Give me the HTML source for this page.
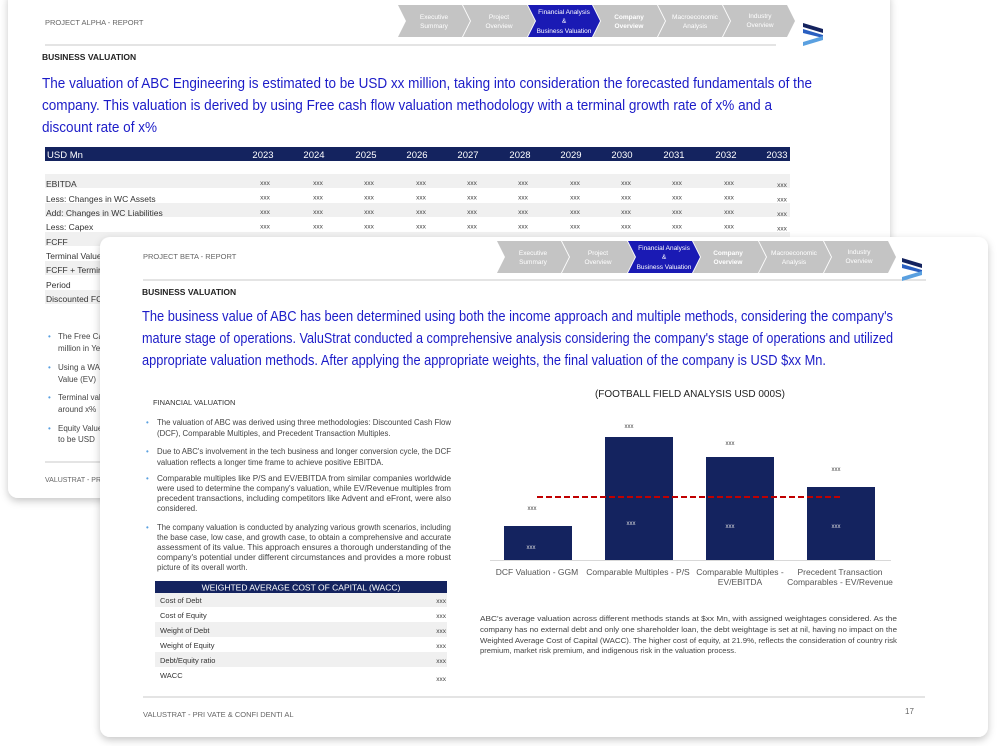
<!DOCTYPE html>
<html><head><meta charset="utf-8"><style>
html,body{margin:0;padding:0;background:#fff;width:1000px;height:746px;overflow:hidden}
svg{display:block}
text{font-family:"Liberation Sans",Arial,sans-serif}
</style></head><body>
<svg width="1000" height="746" viewBox="0 0 1000 746" xmlns="http://www.w3.org/2000/svg">
<defs>
<filter id="sh" x="-5%" y="-5%" width="110%" height="112%"><feDropShadow dx="0" dy="3" stdDeviation="4" flood-color="#000" flood-opacity="0.22"/></filter>
</defs>
<rect width="1000" height="746" fill="#fff"/>

<!-- BACK CARD -->
<rect x="8" y="-10" width="882" height="508" rx="10" fill="#fff" filter="url(#sh)"/>
<text x="45" y="25" font-size="7.5" fill="#666">PROJECT ALPHA - REPORT</text>
<line x1="45" y1="45" x2="776" y2="45" stroke="#c8c8c8" stroke-width="1"/>
<g font-size="6.5" fill="#fff" text-anchor="middle">
<polygon points="398,5 462,5 470,21 462,37 398,37 406,21" fill="#c4c4c4"/>
<text x="434" y="19">Executive</text><text x="434" y="28">Summary</text>
<polygon points="463,5 527,5 535,21 527,37 463,37 471,21" fill="#c4c4c4"/>
<text x="499" y="19">Project</text><text x="499" y="28">Overview</text>
<polygon points="528,5 592,5 600,21 592,37 528,37 536,21" fill="#1a1ab4"/>
<text x="564" y="14">Financial Analysis</text><text x="564" y="23">&amp;</text><text x="564" y="33">Business Valuation</text>
<polygon points="593,5 657,5 665,21 657,37 593,37 601,21" fill="#c4c4c4"/>
<text x="629" y="19" font-weight="bold">Company</text><text x="629" y="28" font-weight="bold">Overview</text>
<polygon points="658,5 722,5 730,21 722,37 658,37 666,21" fill="#c4c4c4"/>
<text x="695" y="19">Macroeconomic</text><text x="695" y="28">Analysis</text>
<polygon points="723,5 787,5 795,21 787,37 723,37 731,21" fill="#c4c4c4"/>
<text x="760" y="18">Industry</text><text x="760" y="27">Overview</text>
</g>
<g>
<polygon points="803,23 823,29 823,33 803,27" fill="#14235f"/>
<polygon points="803,29 823,35 823,38 803,33" fill="#2a5fc0"/>
<polygon points="803,42 823,36 823,40 803,46" fill="#5aa0e0"/>
</g>
<text x="42" y="60" font-size="8.5" font-weight="bold" fill="#222">BUSINESS VALUATION</text>
<g font-size="15" fill="#1c1cc8">
<text x="42" y="88" textLength="770" lengthAdjust="spacingAndGlyphs">The valuation of ABC Engineering is estimated to be USD xx million, taking into consideration the forecasted fundamentals of the</text>
<text x="42" y="110" textLength="730" lengthAdjust="spacingAndGlyphs">company. This valuation is derived by using Free cash flow valuation methodology with a terminal growth rate of x% and a</text>
<text x="42" y="132" textLength="115" lengthAdjust="spacingAndGlyphs">discount rate of x%</text>
</g>
<rect x="45" y="147" width="745" height="14" fill="#14235f"/>
<g font-size="9.5" fill="#fff">
<text x="47" y="158">USD Mn</text>
<g text-anchor="middle">
<text x="263" y="158">2023</text><text x="314" y="158">2024</text><text x="366" y="158">2025</text><text x="417" y="158">2026</text><text x="468" y="158">2027</text><text x="520" y="158">2028</text><text x="571" y="158">2029</text><text x="622" y="158">2030</text><text x="674" y="158">2031</text><text x="726" y="158">2032</text><text x="777" y="158">2033</text>
</g></g>
<g fill="#f0f0f0">
<rect x="45" y="174" width="745" height="14"/><rect x="45" y="203" width="745" height="14"/><rect x="45" y="232" width="745" height="14"/><rect x="45" y="261" width="745" height="14"/><rect x="45" y="290" width="745" height="14"/>
</g>
<g font-size="8.5" fill="#333">
<text x="46" y="187">EBITDA</text><text x="46" y="202">Less: Changes in WC Assets</text><text x="46" y="216">Add: Changes in WC Liabilities</text><text x="46" y="230">Less: Capex</text>
<text x="46" y="245">FCFF</text><text x="46" y="259">Terminal Value</text><text x="46" y="273">FCFF + Terminal Value</text><text x="46" y="288">Period</text><text x="46" y="302">Discounted FCFF</text>
</g>
<g font-size="6.5" fill="#444" text-anchor="middle">
<g id="xr"><text x="265" y="185">xxx</text><text x="318" y="185">xxx</text><text x="369" y="185">xxx</text><text x="421" y="185">xxx</text><text x="472" y="185">xxx</text><text x="523" y="185">xxx</text><text x="575" y="185">xxx</text><text x="626" y="185">xxx</text><text x="677" y="185">xxx</text><text x="729" y="185">xxx</text><text x="782" y="187">xxx</text></g>
<use href="#xr" y="14.5"/><use href="#xr" y="29"/><use href="#xr" y="43.5"/>
</g>
<g font-size="8" fill="#444">
<text x="48" y="339" fill="#5aa0e0">•</text><text x="58" y="339">The Free Cash Flow</text><text x="58" y="351">million in Year</text>
<text x="48" y="370" fill="#5aa0e0">•</text><text x="58" y="370">Using a WACC</text><text x="58" y="382">Value (EV)</text>
<text x="48" y="400" fill="#5aa0e0">•</text><text x="58" y="400">Terminal value</text><text x="58" y="412">around x%</text>
<text x="48" y="431" fill="#5aa0e0">•</text><text x="58" y="431">Equity Value</text><text x="58" y="442">to be USD</text>
</g>
<line x1="45" y1="462" x2="300" y2="462" stroke="#c8c8c8"/>
<text x="45" y="482" font-size="7" fill="#666" font-family="Liberation Serif,serif">VALUSTRAT - PRIVATE</text>

<!-- FRONT CARD -->
<rect x="100" y="237" width="888" height="500" rx="10" fill="#fff" filter="url(#sh)"/>
<text x="143" y="259" font-size="7.5" fill="#666">PROJECT BETA - REPORT</text>
<line x1="143" y1="280" x2="926" y2="280" stroke="#c8c8c8" stroke-width="1"/>
<g font-size="6.5" fill="#fff" text-anchor="middle">
<polygon points="497,241 561,241 569,257 561,273 497,273 505,257" fill="#c4c4c4"/>
<text x="533" y="255">Executive</text><text x="533" y="264">Summary</text>
<polygon points="562,241 627,241 635,257 627,273 562,273 570,257" fill="#c4c4c4"/>
<text x="598" y="255">Project</text><text x="598" y="264">Overview</text>
<polygon points="628,241 692,241 700,257 692,273 628,273 636,257" fill="#1a1ab4"/>
<text x="664" y="250">Financial Analysis</text><text x="664" y="259">&amp;</text><text x="664" y="269">Business Valuation</text>
<polygon points="693,241 758,241 766,257 758,273 693,273 701,257" fill="#c4c4c4"/>
<text x="728" y="255" font-weight="bold">Company</text><text x="728" y="264" font-weight="bold">Overview</text>
<polygon points="759,241 823,241 831,257 823,273 759,273 767,257" fill="#c4c4c4"/>
<text x="794" y="255">Macroeconomic</text><text x="794" y="264">Analysis</text>
<polygon points="824,241 888,241 896,257 888,273 824,273 832,257" fill="#c4c4c4"/>
<text x="859" y="254">Industry</text><text x="859" y="263">Overview</text>
</g>
<g>
<polygon points="902,258 922,264 922,268 902,262" fill="#14235f"/>
<polygon points="902,264 922,270 922,273 902,268" fill="#2a5fc0"/>
<polygon points="902,277 922,271 922,275 902,281" fill="#5aa0e0"/>
</g>
<text x="142" y="295" font-size="8.5" font-weight="bold" fill="#222">BUSINESS VALUATION</text>
<g font-size="15" fill="#1c1cc8">
<text x="142" y="321" textLength="751" lengthAdjust="spacingAndGlyphs">The business value of ABC has been determined using both the income approach and multiple methods, considering the company's</text>
<text x="142" y="343" textLength="751" lengthAdjust="spacingAndGlyphs">mature stage of operations. ValuStrat conducted a comprehensive analysis considering the company's stage of operations and utilized</text>
<text x="142" y="365" textLength="684" lengthAdjust="spacingAndGlyphs">appropriate valuation methods. After applying the appropriate weights, the final valuation of the company is USD $xx Mn.</text>
</g>
<text x="153" y="405" font-size="7.5" fill="#333">FINANCIAL  VALUATION</text>
<g font-size="7.8" fill="#444">
<g fill="#5aa0e0"><text x="146" y="425">•</text><text x="146" y="454">•</text><text x="146" y="481">•</text><text x="146" y="530">•</text></g>
<text x="157" y="425" textLength="294" lengthAdjust="spacingAndGlyphs">The valuation of ABC was derived using three methodologies: Discounted Cash Flow</text>
<text x="157" y="436">(DCF), Comparable Multiples, and Precedent Transaction Multiples.</text>
<text x="157" y="454" textLength="294" lengthAdjust="spacingAndGlyphs">Due to ABC's involvement in the tech business and longer conversion cycle, the DCF</text>
<text x="157" y="465">valuation reflects a longer time frame to achieve positive EBITDA.</text>
<text x="157" y="481" textLength="294" lengthAdjust="spacingAndGlyphs">Comparable multiples like P/S and EV/EBITDA from similar companies worldwide</text>
<text x="157" y="491" textLength="294" lengthAdjust="spacingAndGlyphs">were used to determine the company's valuation, while EV/Revenue multiples from</text>
<text x="157" y="501" textLength="294" lengthAdjust="spacingAndGlyphs">precedent transactions, including competitors like Advent and eFront, were also</text>
<text x="157" y="511">considered.</text>
<text x="157" y="530" textLength="294" lengthAdjust="spacingAndGlyphs">The company valuation is conducted by analyzing various growth scenarios, including</text>
<text x="157" y="540" textLength="294" lengthAdjust="spacingAndGlyphs">the base case, low case, and growth case, to obtain a comprehensive and accurate</text>
<text x="157" y="550" textLength="294" lengthAdjust="spacingAndGlyphs">assessment of its value. This approach ensures a thorough understanding of the</text>
<text x="157" y="560" textLength="294" lengthAdjust="spacingAndGlyphs">company's potential under different circumstances and provides a more robust</text>
<text x="157" y="570">picture of its overall worth.</text>
</g>
<rect x="155" y="581" width="292" height="12" fill="#14235f"/>
<text x="301" y="590.5" font-size="8.5" fill="#fff" text-anchor="middle">WEIGHTED AVERAGE COST OF CAPITAL (WACC)</text>
<g fill="#f0f0f0"><rect x="155" y="593" width="292" height="14"/><rect x="155" y="622" width="292" height="15"/><rect x="155" y="652" width="292" height="15"/></g>
<g font-size="7.5" fill="#333">
<text x="160" y="603">Cost of Debt</text><text x="160" y="618">Cost of Equity</text><text x="160" y="633">Weight of Debt</text><text x="160" y="648">Weight of Equity</text><text x="160" y="663">Debt/Equity ratio</text><text x="160" y="678">WACC</text>
</g>
<g font-size="6.5" fill="#444" text-anchor="end">
<text x="446" y="603">xxx</text><text x="446" y="618">xxx</text><text x="446" y="633">xxx</text><text x="446" y="648">xxx</text><text x="446" y="663">xxx</text><text x="446" y="681">xxx</text>
</g>

<!-- chart -->
<text x="690" y="397" font-size="10" fill="#222" text-anchor="middle">(FOOTBALL FIELD ANALYSIS USD 000S)</text>
<g fill="#14235f">
<rect x="504" y="526" width="68" height="34"/>
<rect x="605" y="437" width="68" height="123"/>
<rect x="706" y="457" width="68" height="103"/>
<rect x="807" y="487" width="68" height="73"/>
</g>
<line x1="490" y1="560.5" x2="891" y2="560.5" stroke="#d8d8d8"/>
<line x1="537" y1="497" x2="842" y2="497" stroke="#c00000" stroke-width="2" stroke-dasharray="6,3"/>
<g font-size="6" text-anchor="middle">
<g fill="#444"><text x="532" y="510">xxx</text><text x="629" y="428">xxx</text><text x="730" y="445">xxx</text><text x="836" y="471">xxx</text></g>
<g fill="#ddd"><text x="531" y="549">xxx</text><text x="631" y="525">xxx</text><text x="730" y="528">xxx</text><text x="836" y="528">xxx</text></g>
</g>
<g font-size="8.5" fill="#555" text-anchor="middle">
<text x="537" y="575">DCF Valuation - GGM</text>
<text x="638" y="575">Comparable Multiples - P/S</text>
<text x="740" y="575">Comparable Multiples -</text><text x="740" y="585">EV/EBITDA</text>
<text x="840" y="575">Precedent Transaction</text><text x="840" y="585">Comparables - EV/Revenue</text>
</g>
<g font-size="7.6" fill="#444">
<text x="480" y="621" textLength="417" lengthAdjust="spacingAndGlyphs">ABC's average valuation across different methods stands at $xx Mn, with assigned weightages considered. As the</text>
<text x="480" y="632" textLength="417" lengthAdjust="spacingAndGlyphs">company has no external debt and only one shareholder loan, the debt weightage is set at nil, having no impact on the</text>
<text x="480" y="643" textLength="417" lengthAdjust="spacingAndGlyphs">Weighted Average Cost of Capital (WACC). The higher cost of equity, at 21.9%, reflects the consideration of country risk</text>
<text x="480" y="653">premium, market risk premium, and indigenous risk in the valuation process.</text>
</g>
<line x1="143" y1="697" x2="925" y2="697" stroke="#c8c8c8"/>
<text x="143" y="717" font-size="7.5" fill="#666" font-family="Liberation Serif,serif">VALUSTRAT  -  PRI VATE  &amp; CONFI DENTI AL</text>
<text x="905" y="714" font-size="8" fill="#666">17</text>
</svg>
</body></html>
